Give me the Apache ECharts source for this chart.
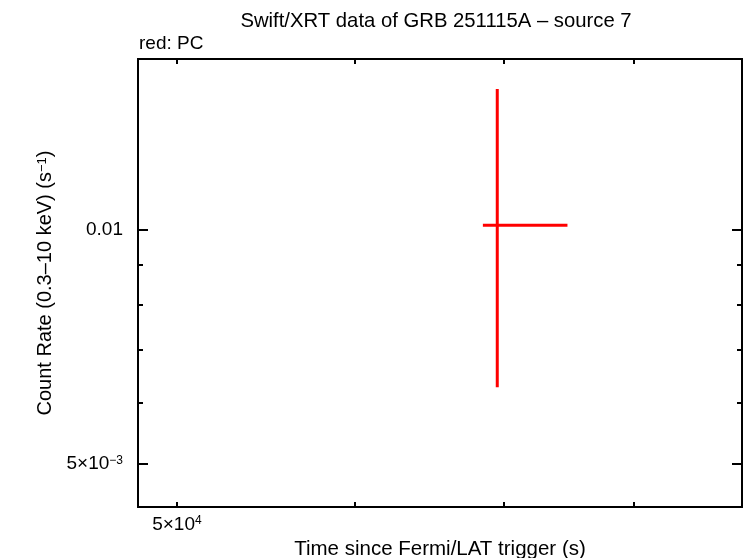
<!DOCTYPE html>
<html>
<head>
<meta charset="utf-8">
<script src="https://cdn.jsdelivr.net/npm/echarts@6/dist/echarts.min.js"></script>
<style>
html,body{margin:0;padding:0;background:#fff;}
#chart{width:746px;height:558px;}
</style>
</head>
<body>
<div id="chart"></div>
<script>
// Data
const times = [69500];          // s since Fermi/LAT trigger
const timeErrLo = [68480];      // lower edge of time bin
const timeErrHi = [74700];      // upper edge of time bin
const rates = [0.01012];        // count rate (s^-1)
const rateLo = [0.00627];       // lower error
const rateHi = [0.01513];       // upper error

const xMajorTicks = [50000];
const xMinorTicks = [50000, 60000, 70000, 80000];
const yMajorTicks = [0.005, 0.01];
const yMinorTicks = [0.006, 0.007, 0.008, 0.009];

const xRange = [48040, 89380];
const yRange = [0.0044036, 0.016537];

const FONT = '"Liberation Sans", Arial, Helvetica, sans-serif';

const chart = echarts.init(document.getElementById('chart'));

const seriesData = times.map((t, i) => [t, rates[i], timeErrLo[i], timeErrHi[i], rateLo[i], rateHi[i]]);

function xAxisCfg(pos, labels) {
  return {
    type: 'log', position: pos, min: xRange[0], max: xRange[1],
    axisLine: { show: true, onZero: false, lineStyle: { color: '#000', width: 2 } },
    axisTick: { show: true, inside: true, length: 5, customValues: xMinorTicks, lineStyle: { color: '#000', width: 2 } },
    axisLabel: labels ? {
      show: true, customValues: xMajorTicks, color: '#000', fontSize: 19, fontFamily: FONT, margin: 8,
      formatter: function () { return '5×10{sup|4}'; },
      rich: { sup: { fontSize: 12, verticalAlign: 'top', fontFamily: FONT, color: '#000' } }
    } : { show: false },
    splitLine: { show: false }, minorTick: { show: false }
  };
}

function yAxisCfg(pos, ticks, len, labels) {
  return {
    type: 'log', position: pos, min: yRange[0], max: yRange[1],
    axisLine: { show: true, onZero: false, lineStyle: { color: '#000', width: 2 } },
    axisTick: { show: true, inside: true, length: len, customValues: ticks, lineStyle: { color: '#000', width: 2 } },
    axisLabel: labels ? {
      show: true, customValues: yMajorTicks, color: '#000', fontSize: 19, fontFamily: FONT, margin: 15,
      formatter: function (v) {
        if (Math.abs(v - 0.01) < 1e-6) return '0.01';
        return '5×10{sup|−3}';
      },
      rich: { sup: { fontSize: 12, verticalAlign: 'top', fontFamily: FONT, color: '#000' } }
    } : { show: false },
    splitLine: { show: false }, minorTick: { show: false }
  };
}

const xBottom = xAxisCfg('bottom', true);
xBottom.name = 'Time since Fermi/LAT trigger (s)';
xBottom.nameLocation = 'middle';
xBottom.nameGap = 32;
xBottom.nameTextStyle = { color: '#000', fontSize: 20.5, fontFamily: FONT };

const yLeft = yAxisCfg('left', yMajorTicks, 10, true);
yLeft.name = 'Count Rate (0.3\u201310 keV) (s{sup|\u22121})';
yLeft.nameLocation = 'middle';
yLeft.nameGap = 79;
yLeft.nameTextStyle = { color: '#000', fontSize: 20, fontFamily: FONT,
  rich: { sup: { fontSize: 13, verticalAlign: 'top', fontFamily: FONT, color: '#000' } } };

chart.setOption({
  animation: false,
  backgroundColor: '#fff',
  textStyle: { fontFamily: FONT },
  title: [
    { text: 'Swift/XRT data of GRB 251115A \u2013 source 7', left: 431, textAlign: 'center', top: 6,
      textStyle: { fontSize: 20.3, fontWeight: 'normal', color: '#000', fontFamily: FONT } },
    { text: 'red: PC', left: 134, top: 29,
      textStyle: { fontSize: 19, fontWeight: 'normal', color: '#000', fontFamily: FONT } }
  ],
  grid: { left: 138, right: 4, top: 59, bottom: 51, containLabel: false, outerBoundsMode: 'none' },
  xAxis: [xBottom, xAxisCfg('top', false)],
  yAxis: [
    yLeft,
    yAxisCfg('left', yMinorTicks, 5, false),
    yAxisCfg('right', yMajorTicks, 10, false),
    yAxisCfg('right', yMinorTicks, 5, false)
  ],
  series: [{
    type: 'custom',
    xAxisIndex: 0, yAxisIndex: 0,
    data: seriesData,
    encode: { x: [0, 2, 3], y: [1, 4, 5] },
    renderItem: function (params, api) {
      const c = api.coord([api.value(0), api.value(1)]);
      const xl = api.coord([api.value(2), api.value(1)]);
      const xh = api.coord([api.value(3), api.value(1)]);
      const yl = api.coord([api.value(0), api.value(4)]);
      const yh = api.coord([api.value(0), api.value(5)]);
      const style = { stroke: '#ff0000', lineWidth: 3 };
      return {
        type: 'group',
        children: [
          { type: 'line', shape: { x1: xl[0], y1: c[1], x2: xh[0], y2: c[1] }, style: style },
          { type: 'line', shape: { x1: c[0], y1: yl[1], x2: c[0], y2: yh[1] }, style: style }
        ]
      };
    }
  }]
});
</script>
</body>
</html>
